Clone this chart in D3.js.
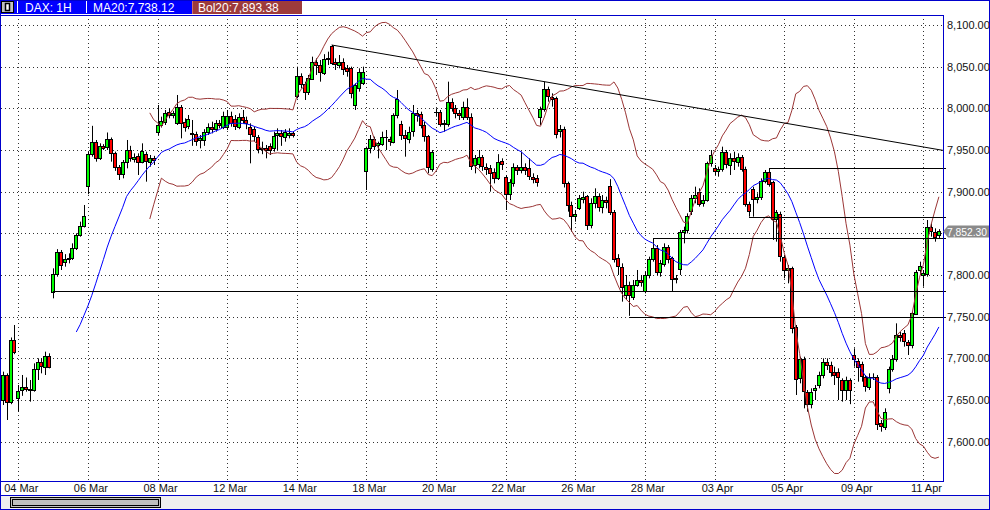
<!DOCTYPE html>
<html><head><meta charset="utf-8">
<script src="https://cdn.jsdelivr.net/npm/d3@7"></script>
<style>html,body{margin:0;padding:0;background:#fff;overflow:hidden}svg{display:block}</style>
</head><body><svg id="c" width="990" height="510"></svg>
<script>
// ---------------- DATA ----------------
const symbol = "DAX: 1H";
const maLabel = "MA20:7,738.12";
const bolLabel = "Bol20:7,893.38";
const sessions = ["01 Mar","04 Mar","05 Mar","06 Mar","07 Mar","08 Mar","11 Mar","12 Mar","13 Mar","14 Mar","15 Mar","18 Mar","19 Mar","20 Mar","21 Mar","22 Mar","25 Mar","26 Mar","27 Mar","28 Mar","02 Apr","03 Apr","04 Apr","05 Apr","08 Apr","09 Apr","10 Apr","11 Apr"];
const barsPerSession = [4,9,9,9,9,9,9,9,9,9,9,9,9,9,9,9,9,9,9,9,9,9,9,9,9,9,9,5];
const tickLabels = ["04 Mar","06 Mar","08 Mar","12 Mar","14 Mar","18 Mar","20 Mar","22 Mar","26 Mar","28 Mar","03 Apr","05 Apr","09 Apr","11 Apr"];
const priceTicks = [7600,7650,7700,7750,7800,7850,7900,7950,8000,8050,8100];

const opens = [7650,7680,7648,7722,
7653,7661,7665,7663,7662,7687,7695,7690,7703,
7779,7801,7827,7815,7819,7820,7832,7848,7859,
7907,7945,7960,7941,7955,7953,7963,7946,7929,
7920,7935,7950,7940,7943,7936,7945,7935,7940,
7971,7980,7983,7996,7992,7983,8002,7984,7978,
7969,7969,7962,7962,7972,7978,7975,7982,7978,
7978,7991,7987,7978,7990,7986,7978,7975,7966,
7951,7952,7955,7952,7967,7970,7966,7968,7970,
8015,8039,8029,8019,8036,8056,8052,8042,8059,
8075,8055,8052,8056,8048,8048,8004,8024,8030,
7924,7952,7963,7955,7958,7966,7963,7960,7992,
7981,7968,7964,7972,7994,7993,7980,7967,7928,
7996,7996,7982,7981,8007,8000,7994,7990,8002,
7990,7931,7932,7941,7930,7928,7924,7917,7937,
7917,7897,7911,7930,7926,7930,7928,7918,7916,
7989,7999,8023,8014,8012,7972,7975,7910,7884,
7871,7880,7892,7895,7860,7886,7895,7882,7890,
7907,7876,7820,7810,7776,7788,7774,7788,7794,
7781,7800,7819,7832,7803,7813,7834,7820,7795,
7806,7851,7854,7876,7892,7900,7886,7890,7934,
7928,7924,7927,7947,7932,7940,7936,7942,7927,
7885,7903,7891,7894,7913,7924,7911,7867,7873,
7821,7805,7808,7737,7676,7699,7660,7646,7662,
7668,7680,7696,7692,7684,7684,7674,7662,7674,
7704,7697,7693,7677,7666,7678,7678,7622,7618,
7664,7687,7699,7728,7730,7720,7716,7754,7806,
7800,7801,7857,7852,7847];

const highs = [7684,7682,7725,7740,
7668,7680,7677,7674,7694,7700,7700,7708,7706,
7808,7831,7830,7825,7826,7838,7850,7864,7884,
7948,7979,7962,7958,7957,7971,7965,7948,7932,
7938,7962,7955,7946,7946,7958,7948,7944,7943,
8004,7990,7998,8000,7997,8016,8004,7988,7992,
7986,7972,7968,7975,7982,7984,7986,7986,7996,
7998,7996,7992,7994,7998,7990,7982,7978,7968,
7960,7956,7958,7972,7976,7974,7975,7976,7972,
8050,8042,8032,8040,8062,8060,8058,8065,8068,
8076,8060,8064,8060,8052,8050,8030,8048,8050,
7954,7968,7966,7960,7972,7974,7966,7994,8022,
7985,7974,7978,8004,7998,7996,7984,7968,7950,
8000,7998,7986,8032,8012,8004,7998,8008,8012,
7994,7944,7950,7944,7934,7932,7928,7945,7940,
7920,7915,7934,7932,7948,7934,7940,7922,7920,
8002,8032,8026,8018,8014,7980,7978,7912,7888,
7878,7896,7900,7896,7892,7904,7898,7896,7894,
7915,7878,7825,7814,7800,7792,7794,7806,7800,
7804,7822,7844,7836,7818,7838,7836,7822,7800,
7854,7858,7874,7896,7906,7904,7896,7936,7950,
7932,7930,7954,7950,7946,7948,7946,7944,7930,
7888,7906,7898,7916,7926,7928,7913,7878,7876,
7824,7812,7810,7740,7702,7702,7662,7664,7668,
7684,7700,7700,7696,7690,7688,7676,7678,7676,
7712,7700,7696,7680,7682,7682,7680,7626,7640,
7690,7704,7742,7732,7734,7722,7756,7806,7816,
7806,7866,7862,7856,7855];

const lows = [7644,7626,7645,7705,
7636,7655,7660,7648,7660,7674,7682,7680,7688,
7772,7798,7806,7810,7814,7818,7830,7846,7857,
7897,7942,7936,7938,7950,7950,7936,7925,7914,
7916,7928,7936,7935,7920,7934,7912,7930,7932,
7968,7977,7980,7988,7988,7980,7964,7972,7975,
7955,7955,7952,7955,7968,7970,7972,7976,7975,
7974,7978,7974,7975,7982,7975,7934,7960,7946,
7945,7940,7944,7948,7950,7955,7960,7964,7965,
8012,8024,8010,8016,8034,8040,8032,8040,8052,
8052,8046,8048,8040,8038,8012,7998,8020,8028,
7902,7946,7950,7940,7955,7950,7955,7958,7988,
7962,7942,7958,7966,7984,7976,7960,7922,7924,
7990,7978,7972,7978,7996,7988,7986,7986,7986,
7926,7922,7928,7925,7920,7900,7910,7914,7926,
7878,7890,7906,7920,7922,7920,7914,7910,7906,
7980,7996,8008,8002,7964,7965,7905,7876,7852,
7864,7878,7886,7854,7856,7880,7876,7874,7880,
7872,7815,7800,7768,7770,7751,7770,7786,7786,
7778,7796,7816,7800,7798,7810,7814,7780,7790,
7800,7838,7850,7872,7886,7882,7882,7888,7930,
7920,7918,7924,7928,7920,7926,7930,7924,7882,
7870,7870,7886,7890,7910,7906,7842,7840,7816,
7796,7790,7730,7656,7670,7640,7636,7640,7650,
7664,7676,7686,7678,7668,7650,7648,7650,7645,
7690,7672,7672,7660,7662,7674,7614,7612,7614,
7658,7684,7696,7720,7714,7704,7712,7752,7800,
7786,7798,7846,7840,7844];

const closes = [7680,7648,7722,7708,
7661,7665,7663,7662,7687,7695,7690,7703,7690,
7801,7827,7811,7819,7820,7832,7848,7859,7871,
7945,7960,7941,7955,7953,7963,7946,7929,7920,
7935,7950,7940,7942,7936,7949,7936,7940,7937,
7980,7985,7994,7992,7994,8002,7983,7978,7987,
7970,7960,7964,7972,7978,7975,7982,7980,7991,
7991,7983,7978,7990,7986,7982,7970,7967,7951,
7952,7950,7950,7967,7970,7966,7972,7970,7968,
8039,8029,8019,8036,8056,8052,8044,8059,8060,
8055,8052,8056,8048,8044,8018,8028,8043,8043,
7952,7963,7955,7958,7966,7966,7960,7992,8011,
7968,7964,7972,7994,7992,7980,7967,7930,7948,
7996,7982,7981,8007,8000,7994,7992,8002,7990,
7931,7940,7941,7930,7928,7922,7917,7936,7933,
7897,7911,7930,7926,7930,7926,7918,7916,7911,
7999,8023,8014,8012,7969,7975,7910,7884,7871,
7873,7892,7894,7860,7886,7895,7882,7890,7888,
7876,7820,7810,7786,7788,7776,7788,7794,7792,
7800,7819,7832,7803,7814,7834,7819,7795,7796,
7851,7854,7871,7892,7896,7886,7890,7934,7944,
7924,7927,7947,7932,7940,7936,7942,7928,7885,
7876,7891,7894,7913,7924,7910,7867,7875,7823,
7805,7808,7736,7675,7699,7660,7646,7660,7664,
7680,7696,7692,7684,7680,7678,7662,7674,7662,
7699,7690,7678,7666,7678,7678,7622,7618,7636,
7687,7699,7728,7726,7720,7716,7754,7804,7811,
7802,7858,7852,7846,7852.3];

const lastPrice = 7852.30;
// drawn support/resistance levels: price and the bar index they start at
const levelPrices = [7781, 7750, 7844, 7870, 7928];
const levelStartBars = [13, 162, 168, 193, 198];
// downtrend line through two bar highs
const trendBars = [85, 140];
const maPeriod = 20;
const bbStart = 38;

// ---------------- LAYOUT ----------------
const W = 990, H = 510;
const plot = {left: 1, right: 943, top: 15, bottom: 481};
const svg = d3.select("#c");
const font = "'Liberation Sans', Arial, sans-serif";

const n = closes.length;
const x = d3.scaleLinear().domain([0, n - 1]).range([2.8, 938.9]);
const y = d3.scaleLinear().domain([7550, 8100]).range([483.33, 25]);

const sessionStart = [];
let acc = 0;
barsPerSession.forEach(b => { sessionStart.push(acc); acc += b; });
const tickIdx = tickLabels.map(t => sessionStart[sessions.indexOf(t)]);

svg.append("rect").attr("width", W).attr("height", H).attr("fill", "#fff");

// header bar
const hdr = svg.append("g");
hdr.append("rect").attr("x", 0).attr("y", 0).attr("width", 192).attr("height", 14).attr("fill", "#0000ff");
hdr.append("rect").attr("x", 192).attr("y", 0).attr("width", 110).attr("height", 14).attr("fill", "#9e3b3b");
hdr.append("line").attr("x1", 192.5).attr("x2", 192.5).attr("y1", 0).attr("y2", 14).attr("stroke", "#d07070");
hdr.append("line").attr("x1", 86.5).attr("x2", 86.5).attr("y1", 1).attr("y2", 13).attr("stroke", "#fff");
hdr.append("line").attr("x1", 17.5).attr("x2", 17.5).attr("y1", 1).attr("y2", 13).attr("stroke", "#fff");
hdr.append("rect").attr("x", 1.5).attr("y", 1.5).attr("width", 12).attr("height", 11).attr("fill", "#c0c0c0").attr("stroke", "#000");
hdr.append("rect").attr("x", 5.5).attr("y", 3.5).attr("width", 4).attr("height", 7).attr("fill", "#fff").attr("stroke", "#000").attr("stroke-width", 1.5);
hdr.append("text").attr("x", 25).attr("y", 11.5).text(symbol).attr("fill", "#fff").attr("font-family", font).attr("font-size", 12);
hdr.append("text").attr("x", 93).attr("y", 11.5).text(maLabel).attr("fill", "#fff").attr("font-family", font).attr("font-size", 12);
hdr.append("text").attr("x", 198).attr("y", 11.5).text(bolLabel).attr("fill", "#fff").attr("font-family", font).attr("font-size", 12);

svg.append("rect").attr("x", 0.5).attr("y", 0.5).attr("width", W - 1).attr("height", H - 1).attr("fill", "none").attr("stroke", "#0000cc");

svg.append("clipPath").attr("id", "pc").append("rect")
  .attr("x", plot.left).attr("y", plot.top).attr("width", plot.right - plot.left).attr("height", plot.bottom - plot.top);
const g = svg.append("g").attr("clip-path", "url(#pc)");

// gridlines
g.selectAll(".hg").data(priceTicks).join("line")
  .attr("x1", plot.left).attr("x2", plot.right)
  .attr("y1", d => Math.round(y(d)) + 0.5).attr("y2", d => Math.round(y(d)) + 0.5)
  .attr("stroke", "#333").attr("stroke-dasharray", "1,3");
g.selectAll(".vg").data(tickIdx).join("line")
  .attr("x1", d => Math.round(x(d)) + 0.5).attr("x2", d => Math.round(x(d)) + 0.5)
  .attr("y1", plot.top).attr("y2", plot.bottom)
  .attr("stroke", "#333").attr("stroke-dasharray", "1,3");

// candles
const idx = d3.range(n);
g.selectAll(".wick").data(idx).join("line")
  .attr("x1", i => Math.round(x(i)) + 0.5).attr("x2", i => Math.round(x(i)) + 0.5)
  .attr("y1", i => y(highs[i])).attr("y2", i => y(lows[i]))
  .attr("stroke", "#000").attr("stroke-width", 1);
g.selectAll(".body").data(idx).join("rect")
  .attr("x", i => Math.round(x(i)) - 1)
  .attr("width", 3)
  .attr("y", i => Math.round(y(Math.max(opens[i], closes[i]))) + 0.5)
  .attr("height", i => Math.max(0.01, Math.round(Math.abs(y(opens[i]) - y(closes[i])))))
  .attr("fill", i => closes[i] >= opens[i] ? "#00ff00" : "#ff0000")
  .attr("stroke", "#000").attr("stroke-width", 1)
  .attr("transform", "translate(-0.5,0)");

// indicators
const ma = idx.map(i => i >= maPeriod - 1 ? d3.mean(closes.slice(i - maPeriod + 1, i + 1)) : null);
const sd = idx.map(i => {
  if (i < maPeriod - 1) return null;
  const s = closes.slice(i - maPeriod + 1, i + 1), m = ma[i];
  return Math.sqrt(d3.mean(s, v => (v - m) * (v - m)));
});
const lineGen = f => d3.line().x(i => x(i)).y(i => y(f(i)));
g.append("path").datum(idx.filter(i => i >= bbStart)).attr("d", lineGen(i => ma[i] + 2 * sd[i]))
  .attr("fill", "none").attr("stroke", "#9b3636").attr("stroke-width", 1);
g.append("path").datum(idx.filter(i => i >= bbStart)).attr("d", lineGen(i => ma[i] - 2 * sd[i]))
  .attr("fill", "none").attr("stroke", "#9b3636").attr("stroke-width", 1);
g.append("path").datum(idx.filter(i => i >= maPeriod - 1)).attr("d", lineGen(i => ma[i]))
  .attr("fill", "none").attr("stroke", "#0000ff").attr("stroke-width", 1);

// support/resistance levels
svg.selectAll(".lvl").data(levelPrices).join("line")
  .attr("x1", (d, k) => Math.round(x(levelStartBars[k]))).attr("x2", plot.right + 3)
  .attr("y1", d => Math.round(y(d)) + 0.5).attr("y2", d => Math.round(y(d)) + 0.5)
  .attr("stroke", "#000").attr("stroke-width", 1);

// trend line
const [ta, tb] = trendBars;
const slope = (highs[tb] - highs[ta]) / (tb - ta);
const iEnd = x.invert(plot.right);
g.append("line")
  .attr("x1", x(ta)).attr("y1", y(highs[ta]))
  .attr("x2", x(iEnd)).attr("y2", y(highs[ta] + slope * (iEnd - ta)))
  .attr("stroke", "#000").attr("stroke-width", 1);

// plot frame
svg.append("rect").attr("x", plot.left - 0.5).attr("y", plot.top + 0.5)
  .attr("width", plot.right - plot.left + 1).attr("height", plot.bottom - plot.top)
  .attr("fill", "none").attr("stroke", "#0000cc");

// right axis labels (the one hidden under the last-price tag is skipped)
const fmt = d3.format(",.2f");
const ly = Math.round(y(lastPrice));
svg.selectAll(".pl").data(priceTicks.filter(d => Math.abs(y(d) - ly) > 10)).join("text")
  .attr("x", 947).attr("y", d => y(d) + 4)
  .text(d => fmt(d)).attr("font-family", font).attr("font-size", 11).attr("fill", "#111");

// last price tag
svg.append("path")
  .attr("d", `M943,${ly + 0.5} L948,${ly - 5.5} L989,${ly - 5.5} L989,${ly + 6.5} L948,${ly + 6.5} Z`)
  .attr("fill", "#8a8a8a");
svg.append("text").attr("x", 947).attr("y", ly + 4.5).text(fmt(lastPrice))
  .attr("textLength", 40).attr("lengthAdjust", "spacingAndGlyphs")
  .attr("font-family", font).attr("font-size", 11).attr("fill", "#fff");

// x axis labels
svg.selectAll(".xl").data(tickIdx).join("text")
  .attr("x", d => x(d) + 3).attr("y", 492).attr("text-anchor", "middle")
  .text((d, k) => tickLabels[k]).attr("font-family", font).attr("font-size", 11).attr("fill", "#111");

// scrollbar area
svg.append("rect").attr("x", 1).attr("y", 495.5).attr("width", W - 2).attr("height", 13.5).attr("fill", "#efefef");
svg.append("line").attr("x1", 0).attr("x2", W).attr("y1", 495.5).attr("y2", 495.5).attr("stroke", "#0000cc");
svg.append("rect").attr("x", 10.5).attr("y", 497.5).attr("width", 150).attr("height", 10).attr("fill", "#c0c0c0").attr("stroke", "#000");
svg.append("rect").attr("x", 12.5).attr("y", 499.5).attr("width", 146).attr("height", 6).attr("fill", "none").attr("stroke", "#000");
svg.append("line").attr("x1", 989.5).attr("x2", 989.5).attr("y1", 0).attr("y2", H).attr("stroke", "#0000cc");
</script></body></html>
